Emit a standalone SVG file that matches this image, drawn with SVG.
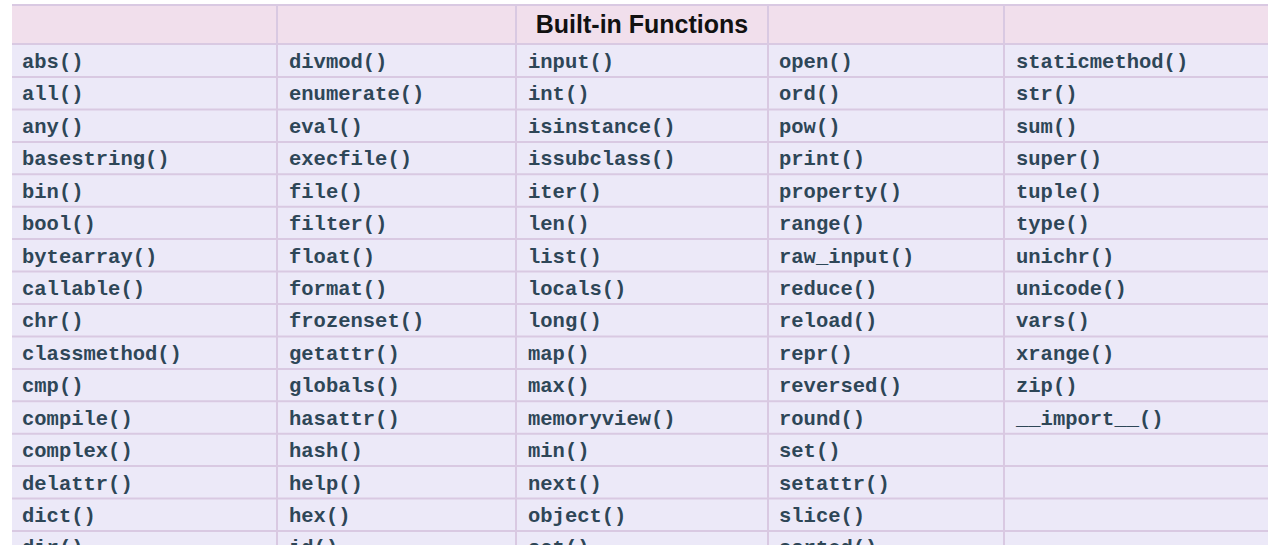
<svg xmlns="http://www.w3.org/2000/svg" width="1280" height="545" viewBox="0 0 1280 545">
<style>
.c{font-family:"Liberation Mono","Courier New",monospace;font-weight:bold;font-size:20.5px;fill:#2e4657}
.h{font-family:"Liberation Sans",Arial,sans-serif;font-weight:bold;font-size:25px;fill:#111}
.g{stroke:#d9c9e2;stroke-width:2}
</style>
<rect width="1280" height="545" fill="#fff"/>
<rect x="12" y="5" width="1256" height="545" fill="#ece9f8"/>
<rect x="12" y="5" width="1256" height="39" fill="#f1dfec"/>
<g id="grid" class="g">
<line x1="12" y1="5" x2="1268" y2="5"/>
<line x1="12" y1="44" x2="1268" y2="44"/>
<line x1="12" y1="77" x2="1268" y2="77"/><line x1="12" y1="109.4" x2="1268" y2="109.4"/><line x1="12" y1="141.9" x2="1268" y2="141.9"/><line x1="12" y1="174.3" x2="1268" y2="174.3"/><line x1="12" y1="206.7" x2="1268" y2="206.7"/><line x1="12" y1="239.1" x2="1268" y2="239.1"/><line x1="12" y1="271.6" x2="1268" y2="271.6"/><line x1="12" y1="304" x2="1268" y2="304"/><line x1="12" y1="336.4" x2="1268" y2="336.4"/><line x1="12" y1="368.9" x2="1268" y2="368.9"/><line x1="12" y1="401.3" x2="1268" y2="401.3"/><line x1="12" y1="433.7" x2="1268" y2="433.7"/><line x1="12" y1="466.1" x2="1268" y2="466.1"/><line x1="12" y1="498.6" x2="1268" y2="498.6"/><line x1="12" y1="531" x2="1268" y2="531"/>
<line x1="277" y1="5" x2="277" y2="545"/><line x1="516" y1="5" x2="516" y2="545"/><line x1="768" y1="5" x2="768" y2="545"/><line x1="1004" y1="5" x2="1004" y2="545"/>
</g>
<g id="header"><text class="h" x="642" y="33" text-anchor="middle">Built-in Functions</text></g>
<g id="col1" class="c">
<text x="22" y="68">abs()</text><text x="22" y="100.4">all()</text><text x="22" y="132.9">any()</text><text x="22" y="165.3">basestring()</text><text x="22" y="197.7">bin()</text><text x="22" y="230.1">bool()</text><text x="22" y="262.6">bytearray()</text><text x="22" y="295">callable()</text><text x="22" y="327.4">chr()</text><text x="22" y="359.9">classmethod()</text><text x="22" y="392.3">cmp()</text><text x="22" y="424.7">compile()</text><text x="22" y="457.1">complex()</text><text x="22" y="489.6">delattr()</text><text x="22" y="522">dict()</text><text x="22" y="554.4">dir()</text>
</g>
<g id="col2" class="c">
<text x="289" y="68">divmod()</text><text x="289" y="100.4">enumerate()</text><text x="289" y="132.9">eval()</text><text x="289" y="165.3">execfile()</text><text x="289" y="197.7">file()</text><text x="289" y="230.1">filter()</text><text x="289" y="262.6">float()</text><text x="289" y="295">format()</text><text x="289" y="327.4">frozenset()</text><text x="289" y="359.9">getattr()</text><text x="289" y="392.3">globals()</text><text x="289" y="424.7">hasattr()</text><text x="289" y="457.1">hash()</text><text x="289" y="489.6">help()</text><text x="289" y="522">hex()</text><text x="289" y="554.4">id()</text>
</g>
<g id="col3" class="c">
<text x="528" y="68">input()</text><text x="528" y="100.4">int()</text><text x="528" y="132.9">isinstance()</text><text x="528" y="165.3">issubclass()</text><text x="528" y="197.7">iter()</text><text x="528" y="230.1">len()</text><text x="528" y="262.6">list()</text><text x="528" y="295">locals()</text><text x="528" y="327.4">long()</text><text x="528" y="359.9">map()</text><text x="528" y="392.3">max()</text><text x="528" y="424.7">memoryview()</text><text x="528" y="457.1">min()</text><text x="528" y="489.6">next()</text><text x="528" y="522">object()</text><text x="528" y="554.4">oct()</text>
</g>
<g id="col4" class="c">
<text x="779" y="68">open()</text><text x="779" y="100.4">ord()</text><text x="779" y="132.9">pow()</text><text x="779" y="165.3">print()</text><text x="779" y="197.7">property()</text><text x="779" y="230.1">range()</text><text x="779" y="262.6">raw_input()</text><text x="779" y="295">reduce()</text><text x="779" y="327.4">reload()</text><text x="779" y="359.9">repr()</text><text x="779" y="392.3">reversed()</text><text x="779" y="424.7">round()</text><text x="779" y="457.1">set()</text><text x="779" y="489.6">setattr()</text><text x="779" y="522">slice()</text><text x="779" y="554.4">sorted()</text>
</g>
<g id="col5" class="c">
<text x="1016" y="68">staticmethod()</text><text x="1016" y="100.4">str()</text><text x="1016" y="132.9">sum()</text><text x="1016" y="165.3">super()</text><text x="1016" y="197.7">tuple()</text><text x="1016" y="230.1">type()</text><text x="1016" y="262.6">unichr()</text><text x="1016" y="295">unicode()</text><text x="1016" y="327.4">vars()</text><text x="1016" y="359.9">xrange()</text><text x="1016" y="392.3">zip()</text><text x="1016" y="424.7">__import__()</text>
</g>
</svg>
